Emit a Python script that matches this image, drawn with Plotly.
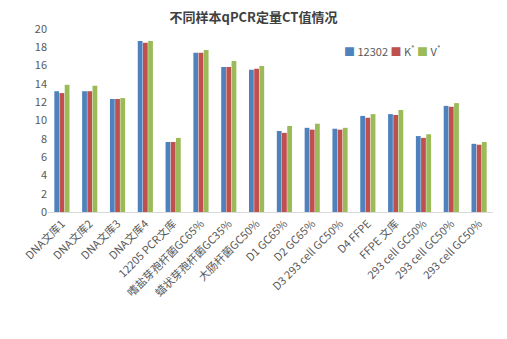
import plotly.graph_objects as go

categories = ["DNA文库1", "DNA文库2", "DNA文库3", "DNA文库4", "12205 PCR文库",
              "嗜盐芽孢杆菌GC65%", "蜡状芽孢杆菌GC35%", "大肠杆菌GC50%",
              "D1 GC65%", "D2 GC65%", "D3 293 cell GC50%", "D4 FFPE",
              "FFPE 文库", "293 cell GC50%", "293 cell GC50%", "293 cell GC50%"]
s_12302 = [13.2, 13.2, 12.35, 18.7, 7.65, 17.4, 15.85, 15.55, 8.85, 9.2, 9.1, 10.5, 10.7, 8.3, 11.6, 7.45]
s_k = [13.0, 13.2, 12.35, 18.5, 7.65, 17.4, 15.85, 15.65, 8.65, 9.0, 9.0, 10.3, 10.6, 8.1, 11.5, 7.35]
s_v = [13.9, 13.8, 12.45, 18.7, 8.1, 17.7, 16.5, 15.95, 9.4, 9.65, 9.2, 10.7, 11.15, 8.5, 11.9, 7.65]
series = [("12302", s_12302, "#4F81BD"), ("K<sup>*</sup>", s_k, "#C0504D"), ("V<sup>*</sup>", s_v, "#9BBB59")]

x = list(range(len(categories)))
font = "Noto Sans CJK SC, Microsoft YaHei, sans-serif"
fig = go.Figure()
for name, vals, col in series:
    fig.add_trace(go.Bar(x=x, y=vals, name=name, marker=dict(color=col, line=dict(width=0))))

legend_text = " ".join(
    f'<span style="color:{col}">■</span> {name}' for name, _, col in series
)
fig.add_annotation(text=legend_text, xref="paper", yref="paper", x=0.66, y=0.88,
                   xanchor="left", yanchor="middle", showarrow=False,
                   font=dict(size=11, color="#595959", family=font))

fig.update_layout(
    width=507, height=339,
    margin=dict(l=48, r=14, t=29, b=127, autoexpand=False),
    paper_bgcolor="white", plot_bgcolor="white",
    barmode="group", bargap=0.44, bargroupgap=0.08,
    font=dict(family=font, size=11, color="#595959"),
    title=dict(text="<b>不同样本qPCR定量CT值情况</b>", x=0.5, xanchor="center", y=0.95, yanchor="middle",
               font=dict(size=13, color="#404040", family=font)),
    showlegend=False,
)
fig.update_xaxes(tickvals=x, ticktext=categories, tickangle=-45, range=[-0.5, 15.5], automargin=False,
                 showline=True, linecolor="#D9D9D9", linewidth=1, ticks="", showgrid=False,
                 tickfont=dict(size=11, color="#595959"))
fig.update_yaxes(range=[0, 20], dtick=2, showgrid=False, showline=False, zeroline=False, automargin=False,
                 ticks="", tickfont=dict(size=11, color="#595959"))
fig.write_html("out.html")
